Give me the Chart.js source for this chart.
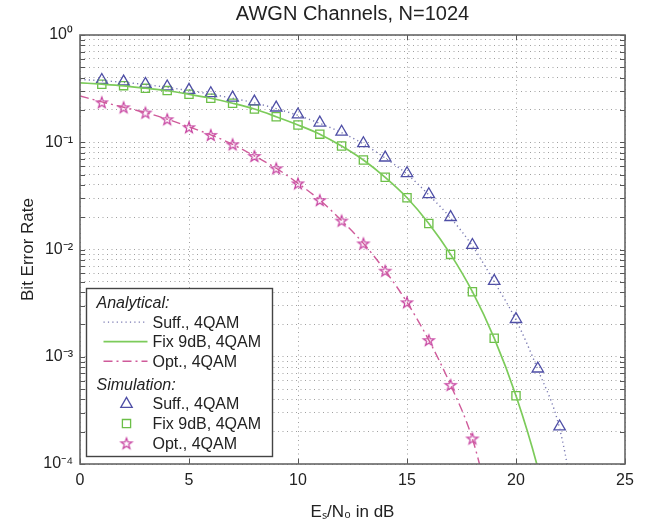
<!DOCTYPE html>
<html><head><meta charset="utf-8">
<script src="https://cdn.jsdelivr.net/npm/chart.js@4.4.1/dist/chart.umd.min.js"></script>
<style>html,body{margin:0;padding:0;background:#fff;}canvas{display:block;}</style>
</head><body>
<canvas id="c" width="656" height="532"></canvas>
<script>
// ---- text ----
const titleText = 'AWGN Channels, N=1024';
const xTitle = 'Eₛ/N₀ in dB';
const yTitle = 'Bit Error Rate';
const groupNames = ['Analytical:', 'Simulation:'];
const seriesNames = ['Suff., 4QAM', 'Fix 9dB, 4QAM', 'Opt., 4QAM'];

// ---- ticks ----
const xTickValues = [0, 5, 10, 15, 20, 25];
const yDecades = [-4, -3, -2, -1, 0];
const yMantissas = [1, 2, 3, 4, 5, 6, 7, 8, 9];

// ---- analytical curves ----
const anaSuffX = [0,1,2,3,4,5,6,7,8,9,10,11,12,13,14,15,16,17,18,19,20,21,22,23];
const anaSuffY = [0.385,0.375,0.362,0.345,0.325,0.303,0.281,0.257,0.233,0.206,0.178,0.150,0.123,0.0965,0.0712,0.0505,0.0323,0.0197,0.0108,0.0050,0.00220,0.00076,0.000215,0.000018];
const anaFixX = [0,1,2,3,4,5,6,7,8,9,10,11,12,13,14,15,16,17,18,19,20,21,22];
const anaFixY = [0.358,0.348,0.336,0.319,0.302,0.280,0.257,0.231,0.204,0.173,0.145,0.119,0.0923,0.0683,0.0471,0.0304,0.0175,0.0090,0.00404,0.00149,0.000433,0.000092,0.000012];
const anaOptX = [0,1,2,3,4,5,6,7,8,9,10,11,12,13,14,15,16,17,18,19];
const anaOptY = [0.27,0.238,0.212,0.189,0.164,0.139,0.117,0.0957,0.0745,0.0572,0.0414,0.0289,0.0186,0.0114,0.00634,0.00322,0.00143,0.000546,0.000172,0.000028];

// ---- simulation points ----
const simSuffX = [1,2,3,4,5,6,7,8,9,10,11,12,13,14,15,16,17,18,19,20,21,22];
const simSuffY = [0.380,0.367,0.349,0.330,0.307,0.286,0.260,0.239,0.210,0.181,0.152,0.125,0.0977,0.0718,0.0513,0.0327,0.0200,0.0110,0.00508,0.00224,0.000774,0.000223];
const simFixX = [1,2,3,4,5,6,7,8,9,10,11,12,13,14,15,16,17,18,19,20];
const simFixY = [0.347,0.337,0.318,0.303,0.280,0.257,0.231,0.204,0.173,0.145,0.119,0.0923,0.0683,0.0471,0.0304,0.0175,0.0090,0.00404,0.00149,0.000433];
const simOptX = [1,2,3,4,5,6,7,8,9,10,11,12,13,14,15,16,17,18];
const simOptY = [0.236,0.212,0.189,0.164,0.138,0.117,0.0957,0.0745,0.0572,0.0414,0.0289,0.0186,0.0114,0.00634,0.00322,0.00143,0.000546,0.000173];

const FONT = "'Liberation Sans', Arial, Helvetica, sans-serif";
const C_BLUE = '#4e4ea6', C_BLUE_LINE = '#7676b0';
const C_GREEN = '#6cbf48', C_GREEN_LINE = '#7ccb5a';
const C_PINK = '#c63f9f', C_PINK_LINE = '#cf5a9a';

function pts(xs, ys) { return xs.map((x, i) => ({x: x, y: ys[i]})); }

function makeStar(color) {
  const size = 16, R = 5.8, r = 2.3;
  const c = document.createElement('canvas'); c.width = size; c.height = size;
  const g = c.getContext('2d');
  g.strokeStyle = color; g.lineWidth = 1.2; g.lineJoin = 'miter';
  g.beginPath();
  for (let k = 0; k < 10; k++) {
    const a = -Math.PI / 2 + k * Math.PI / 5;
    const rad = k % 2 === 0 ? R : r;
    const px = size / 2 + rad * Math.cos(a), py = size / 2 + 0.6 + rad * Math.sin(a);
    if (k === 0) g.moveTo(px, py); else g.lineTo(px, py);
  }
  g.closePath(); g.stroke();
  return c;
}
const starImg = makeStar(C_PINK);

const supMap = {'-': '⁻', '0': '⁰', '1': '¹', '2': '²', '3': '³', '4': '⁴', '5': '⁵', '6': '⁶', '7': '⁷', '8': '⁸', '9': '⁹'};
function sup(n) { return String(n).split('').map(ch => supMap[ch]).join(''); }

const yTickValues = [];
yDecades.forEach(e => {
  if (e === yDecades[yDecades.length - 1]) { yTickValues.push(Math.pow(10, e)); return; }
  yMantissas.forEach(m => yTickValues.push(+(m * Math.pow(10, e)).toPrecision(6)));
});

const lineCommon = {showLine: true, pointRadius: 0, pointHoverRadius: 0, fill: false, cubicInterpolationMode: 'monotone', clip: 0};
const datasets = [
  Object.assign({label: seriesNames[0], group: 0, data: pts(anaSuffX, anaSuffY), borderColor: C_BLUE_LINE, borderWidth: 1.4, borderDash: [1.2, 3.2]}, lineCommon),
  Object.assign({label: seriesNames[1], group: 0, data: pts(anaFixX, anaFixY), borderColor: C_GREEN_LINE, borderWidth: 1.7, borderDash: []}, lineCommon),
  Object.assign({label: seriesNames[2], group: 0, data: pts(anaOptX, anaOptY), borderColor: C_PINK_LINE, borderWidth: 1.4, borderDash: [9, 4, 2, 4]}, lineCommon),
  {label: seriesNames[0], group: 1, data: pts(simSuffX, simSuffY), showLine: false, pointStyle: 'triangle', pointRadius: 6.6, borderColor: C_BLUE, backgroundColor: 'rgba(0,0,0,0)', pointBorderWidth: 1.3, borderWidth: 1.3},
  {label: seriesNames[1], group: 1, data: pts(simFixX, simFixY), showLine: false, pointStyle: 'rect', pointRadius: 5.8, borderColor: C_GREEN, backgroundColor: 'rgba(0,0,0,0)', pointBorderWidth: 1.3, borderWidth: 1.3},
  {label: seriesNames[2], group: 1, data: pts(simOptX, simOptY), showLine: false, pointStyle: starImg, pointRadius: 6, borderColor: C_PINK, backgroundColor: 'rgba(0,0,0,0)', borderWidth: 1.2}
];

const framePlugin = {
  id: 'frame',
  afterDraw(chart) {
    const ctx = chart.ctx, a = chart.chartArea;
    const xs = chart.scales.x, ys = chart.scales.y;
    ctx.save();
    // inner tick marks
    ctx.strokeStyle = '#555'; ctx.lineWidth = 1;
    ctx.beginPath();
    xTickValues.forEach(v => {
      const px = Math.round(xs.getPixelForValue(v)) + 0.5;
      ctx.moveTo(px, a.bottom); ctx.lineTo(px, a.bottom - 5);
      ctx.moveTo(px, a.top); ctx.lineTo(px, a.top + 5);
    });
    yTickValues.forEach(v => {
      const py = Math.round(ys.getPixelForValue(v)) + 0.5;
      ctx.moveTo(a.left, py); ctx.lineTo(a.left + 5, py);
      ctx.moveTo(a.right, py); ctx.lineTo(a.right - 5, py);
    });
    ctx.stroke();
    // frame
    ctx.strokeStyle = '#666'; ctx.lineWidth = 1.6;
    ctx.strokeRect(a.left, a.top, a.right - a.left, a.bottom - a.top);

    // legend
    const bx = a.left + 6.5, by = a.bottom - 175.5, bw = 186, bh = 168;
    ctx.fillStyle = '#fff'; ctx.fillRect(bx, by, bw, bh);
    ctx.strokeStyle = '#444'; ctx.lineWidth = 1.4; ctx.strokeRect(bx, by, bw, bh);
    ctx.textBaseline = 'middle'; ctx.textAlign = 'left'; ctx.fillStyle = '#222';
    const rowH = 19.6;
    let y = by + 15;
    [0, 1].forEach(g => {
      ctx.font = 'italic 16px ' + FONT; ctx.fillStyle = '#222';
      ctx.fillText(groupNames[g], bx + 10, y);
      y += rowH + (g === 0 ? -1 : -1.5);
      chart.data.datasets.forEach(ds => {
        if (ds.group !== g) return;
        if (g === 0) {
          ctx.save();
          ctx.strokeStyle = ds.borderColor; ctx.lineWidth = ds.borderWidth;
          ctx.setLineDash(ds.borderDash || []);
          ctx.beginPath(); ctx.moveTo(bx + 17, y); ctx.lineTo(bx + 61, y); ctx.stroke();
          ctx.restore();
        } else {
          ctx.save();
          ctx.strokeStyle = ds.borderColor; ctx.fillStyle = 'rgba(0,0,0,0)';
          ctx.lineWidth = ds.pointBorderWidth || ds.borderWidth;
          Chart.helpers.drawPoint(ctx, {pointStyle: ds.pointStyle, radius: ds.pointRadius, borderWidth: ds.pointBorderWidth || ds.borderWidth, rotation: 0}, bx + 40, y);
          ctx.restore();
        }
        ctx.font = '16px ' + FONT; ctx.fillStyle = '#222';
        ctx.fillText(ds.label, bx + 66, y + 1);
        y += rowH;
      });
      y += 5;
    });
    ctx.restore();
  }
};

new Chart(document.getElementById('c'), {
  type: 'scatter',
  data: {datasets: datasets},
  plugins: [framePlugin],
  options: {
    responsive: false, animation: false, devicePixelRatio: 1,
    layout: {padding: {top: 0, right: 31, bottom: 0, left: 0}},
    plugins: {
      legend: {display: false},
      tooltip: {enabled: false},
      title: {display: true, fullSize: false, text: titleText, color: '#222', font: {family: FONT, size: 20, weight: 'normal'}, padding: {top: 2, bottom: 9}}
    },
    scales: {
      x: {
        type: 'linear', min: 0, max: 25,
        afterBuildTicks: s => { s.ticks = xTickValues.map(v => ({value: v})); },
        afterFit: s => { s.height = 68; },
        grid: {color: '#a0a0a0', lineWidth: 1, drawTicks: false},
        border: {display: false, dash: [1, 3.5]},
        ticks: {color: '#222', font: {family: FONT, size: 16}, padding: 7, maxRotation: 0},
        title: {display: true, text: xTitle, color: '#222', font: {family: FONT, size: 17}, padding: {top: 0, bottom: 9}}
      },
      y: {
        type: 'logarithmic', min: 1e-4, max: 1,
        afterBuildTicks: s => { s.ticks = yTickValues.map(v => ({value: v})); },
        afterFit: s => { s.width = 80; },
        grid: {color: '#a0a0a0', lineWidth: 1, drawTicks: false},
        border: {display: false, dash: [1, 3.5]},
        ticks: {
          color: '#222', font: {family: FONT, size: 16}, padding: 7, autoSkip: false,
          callback: v => { const e = Math.log10(v), r = Math.round(e); return Math.abs(e - r) < 1e-6 ? '10' + sup(r) : ''; }
        },
        title: {display: true, text: yTitle, color: '#222', font: {family: FONT, size: 17}, padding: {top: 18, bottom: 0}}
      }
    }
  }
});
</script>
</body></html>
